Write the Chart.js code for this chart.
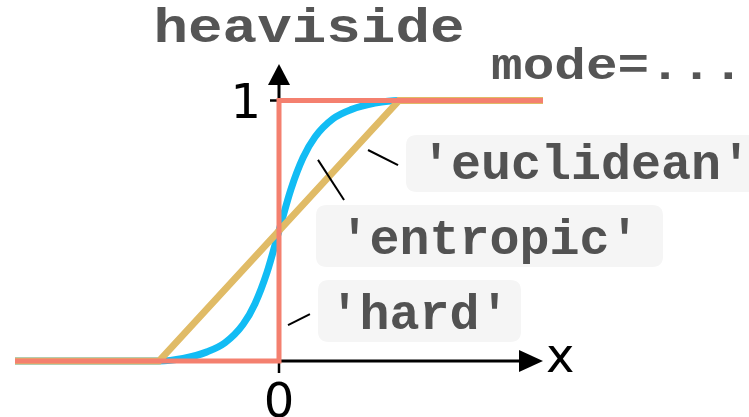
<!DOCTYPE html>
<html><head><meta charset="utf-8">
<script src="https://cdn.jsdelivr.net/npm/chart.js@4/dist/chart.umd.min.js"></script>
<style>html,body{margin:0;padding:0;background:#fff;}#wrap{width:749px;height:417px;position:relative}</style>
</head><body><div id="wrap"><canvas id="c" width="749" height="417"></canvas></div>
<script>
// ---- data ----
const hardX = [-2.2, 0, 0, 2.2];
const hardY = [0, 0, 1, 1];
const euclideanX = [-2.2, -1, 1, 2.2];
const euclideanY = [0, 0, 1, 1];
const entropicX = [-2.2, -1.0, -0.8, -0.6, -0.45, -0.3, -0.2, -0.1, 0, 0.1, 0.2, 0.3, 0.45, 0.6, 0.8, 1.0, 2.2];
const entropicY = [0, 0, 0.01, 0.035, 0.07, 0.14, 0.22, 0.34, 0.5, 0.66, 0.78, 0.86, 0.93, 0.965, 0.99, 1, 1];
const seriesNames = ["'hard'", "'entropic'", "'euclidean'"];
const xTicks = [0];
const yTicks = [1];
const xTickLabels = ["0"];
const yTickLabels = ["1"];
const titleText = "heaviside";
const modeText = "mode=...";
const xAxisLabel = "x";

const COLORS = { hard: '#f4806f', entropic: '#12bcf4', euclidean: '#e0bb66' };
const pts = (xs, ys) => xs.map((x, i) => ({ x: x, y: ys[i] }));

// label boxes in data coordinates
const labelBoxes = [
  { text: seriesNames[2], x0: 1.058, x1: 4.058, y0: 0.868, y1: 0.649, lead: [0.742, 0.81, 0.992, 0.752] },
  { text: seriesNames[1], x0: 0.308, x1: 3.2, y0: 0.599, y1: 0.361, lead: [0.325, 0.772, 0.542, 0.618] },
  { text: seriesNames[0], x0: 0.325, x1: 2.017, y0: 0.311, y1: 0.073, lead: [0.075, 0.138, 0.258, 0.18] }
];

function stretchText(ctx, text, x, y, font, width, align) {
  ctx.save();
  ctx.font = font;
  const w = ctx.measureText(text).width;
  const sx = width ? width / w : 1;
  let left = x;
  if (align === 'center') left = x - (w * sx) / 2;
  ctx.translate(left, y);
  ctx.scale(sx, 1);
  ctx.textAlign = 'left';
  ctx.textBaseline = 'alphabetic';
  ctx.fillText(text, 0, 0);
  ctx.restore();
}

function roundRect(ctx, x, y, w, h, r) {
  ctx.beginPath();
  ctx.moveTo(x + r, y);
  ctx.lineTo(x + w - r, y);
  ctx.quadraticCurveTo(x + w, y, x + w, y + r);
  ctx.lineTo(x + w, y + h - r);
  ctx.quadraticCurveTo(x + w, y + h, x + w - r, y + h);
  ctx.lineTo(x + r, y + h);
  ctx.quadraticCurveTo(x, y + h, x, y + h - r);
  ctx.lineTo(x, y + r);
  ctx.quadraticCurveTo(x, y, x + r, y);
  ctx.closePath();
}

const axesPlugin = {
  id: 'axesPlugin',
  beforeDatasetsDraw(chart) {
    const ctx = chart.ctx, xs = chart.scales.x, ys = chart.scales.y;
    const x0 = xs.getPixelForValue(0), y0 = ys.getPixelForValue(0);
    const yTip = ys.getPixelForValue(1.14), xTip = xs.getPixelForValue(2.2);
    ctx.save();
    ctx.strokeStyle = '#000'; ctx.fillStyle = '#000'; ctx.lineWidth = 3;
    // y axis
    ctx.beginPath(); ctx.moveTo(x0, y0); ctx.lineTo(x0, yTip + 18); ctx.stroke();
    ctx.beginPath(); ctx.moveTo(x0, yTip); ctx.lineTo(x0 - 11, yTip + 21); ctx.lineTo(x0 + 11, yTip + 21); ctx.closePath(); ctx.fill();
    // x axis
    ctx.beginPath(); ctx.moveTo(x0, y0); ctx.lineTo(xTip - 20, y0); ctx.stroke();
    ctx.beginPath(); ctx.moveTo(xTip, y0); ctx.lineTo(xTip - 24, y0 - 11); ctx.lineTo(xTip - 24, y0 + 11); ctx.closePath(); ctx.fill();
    // ticks
    ctx.lineWidth = 2.5;
    xTicks.forEach((t, i) => {
      const px = xs.getPixelForValue(t);
      ctx.beginPath(); ctx.moveTo(px, y0); ctx.lineTo(px, y0 + 12); ctx.stroke();
      ctx.font = '48px "DejaVu Sans"'; ctx.textAlign = 'center'; ctx.textBaseline = 'alphabetic';
      ctx.fillText(xTickLabels[i], px, y0 + 56);
    });
    yTicks.forEach((t, i) => {
      const py = ys.getPixelForValue(t);
      ctx.beginPath(); ctx.moveTo(x0 - 9, py); ctx.lineTo(x0, py); ctx.stroke();
      ctx.font = '48px "DejaVu Sans"'; ctx.textAlign = 'right'; ctx.textBaseline = 'alphabetic';
      ctx.fillText(yTickLabels[i], x0 - 18, py + 17);
    });
    ctx.font = '48px "DejaVu Sans"'; ctx.textAlign = 'left'; ctx.textBaseline = 'alphabetic';
    ctx.fillText(xAxisLabel, xTip + 3, y0 + 11);
    ctx.restore();
  },
  afterDatasetsDraw(chart) {
    const ctx = chart.ctx, xs = chart.scales.x, ys = chart.scales.y;
    ctx.save();
    ctx.fillStyle = '#555';
    const mono = '"Liberation Mono", "Courier New", monospace';
    // title
    stretchText(ctx, titleText, xs.getPixelForValue(0.25), ys.getPixelForValue(1.2246), 'bold 48px ' + mono, 311, 'center');
    stretchText(ctx, modeText, xs.getPixelForValue(1.767), ys.getPixelForValue(1.082), 'bold 44px ' + mono, 253, 'left');
    // label boxes
    labelBoxes.forEach(b => {
      const l = xs.getPixelForValue(b.x0), r = xs.getPixelForValue(b.x1);
      const t = ys.getPixelForValue(b.y0), bt = ys.getPixelForValue(b.y1);
      ctx.fillStyle = '#f5f5f5';
      roundRect(ctx, l, t, r - l, bt - t, 11); ctx.fill();
      ctx.fillStyle = '#525252';
      ctx.font = 'bold 50px ' + mono; ctx.textAlign = 'center'; ctx.textBaseline = 'alphabetic';
      ctx.fillText(b.text, (l + r) / 2, bt - 13);
      ctx.strokeStyle = '#000'; ctx.lineWidth = 2;
      ctx.beginPath();
      ctx.moveTo(xs.getPixelForValue(b.lead[0]), ys.getPixelForValue(b.lead[1]));
      ctx.lineTo(xs.getPixelForValue(b.lead[2]), ys.getPixelForValue(b.lead[3]));
      ctx.stroke();
    });
    ctx.restore();
  }
};

new Chart(document.getElementById('c'), {
  type: 'scatter',
  data: {
    datasets: [
      { label: seriesNames[0], data: pts(hardX, hardY), showLine: true, borderColor: COLORS.hard, backgroundColor: COLORS.hard,
        borderWidth: 5, pointRadius: 0, tension: 0, borderJoinStyle: 'miter', clip: false, order: 0 },
      { label: seriesNames[2], data: pts(euclideanX, euclideanY), showLine: true, borderColor: COLORS.euclidean, backgroundColor: COLORS.euclidean,
        borderWidth: 7, pointRadius: 0, tension: 0, clip: false, order: 1 },
      { label: seriesNames[1], data: pts(entropicX, entropicY), showLine: true, borderColor: COLORS.entropic, backgroundColor: COLORS.entropic,
        borderWidth: 7, pointRadius: 0, cubicInterpolationMode: 'monotone', clip: false, order: 2 }
    ]
  },
  options: {
    responsive: false, animation: false, devicePixelRatio: 1,
    layout: { padding: { left: 15, right: 206, top: 100.5, bottom: 56 } },
    scales: {
      x: { type: 'linear', min: -2.2, max: 2.2, display: false },
      y: { type: 'linear', min: 0, max: 1, display: false }
    },
    plugins: { legend: { display: false }, tooltip: { enabled: false } }
  },
  plugins: [axesPlugin]
});
</script>
</body></html>
